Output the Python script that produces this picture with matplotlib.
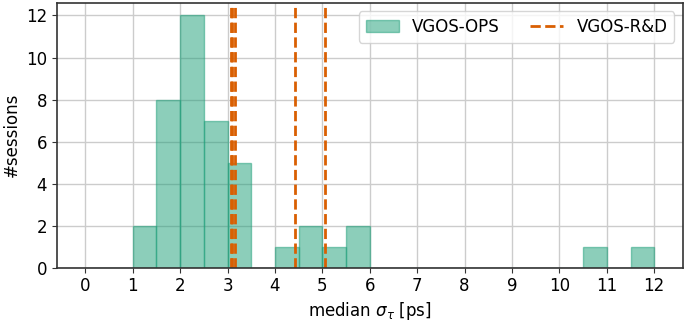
import numpy as np
import matplotlib
matplotlib.use("Agg")
import matplotlib.pyplot as plt

# histogram of VGOS-OPS sessions (bin edges every 0.5 ps)
bin_edges = np.arange(0, 12.5, 0.5)
ops_counts = [0, 0, 2, 8, 12, 7, 5, 0, 1, 2, 1, 2,
              0, 0, 0, 0, 0, 0, 0, 0, 0, 1, 0, 1]
# median sigma_tau of the VGOS-R&D sessions
rd_medians = [3.07, 3.09, 3.15, 4.42, 5.06]

green = '#1b9e77'
orange = '#d95f02'

fig = plt.figure(figsize=(6.85, 3.21), dpi=100)
ax = fig.add_axes([0.083, 0.166, 0.9136, 0.825])
ax.set_axisbelow(True)
ax.grid(color='#cccccc', linewidth=1)

centers = bin_edges[:-1] + 0.25
ax.hist(centers, bins=bin_edges, weights=ops_counts, color=green, alpha=0.5,
        edgecolor=green, linewidth=1, label='VGOS-OPS')
for i, v in enumerate(rd_medians):
    ax.axvline(v, color=orange, linestyle='--', linewidth=2,
               label='VGOS-R&D' if i == 0 else None)

ax.set_xticks(np.arange(0, 13, 1))
ax.set_xlim(-0.6, 12.6)
ax.set_ylim(0, 12.6)
ax.set_yticks([0, 2, 4, 6, 8, 10, 12])
ax.tick_params(labelsize=12, color='#333333')
for s in ax.spines.values():
    s.set_color('#333333')
    s.set_linewidth(1.2)
ax.set_xlabel(r'median $\sigma_\tau$ [ps]', fontsize=12, labelpad=3)
ax.set_ylabel('#sessions', fontsize=12)
ax.legend(loc='upper right', ncol=2, fontsize=12, columnspacing=1.8)

fig.savefig('out.png', dpi=100)
